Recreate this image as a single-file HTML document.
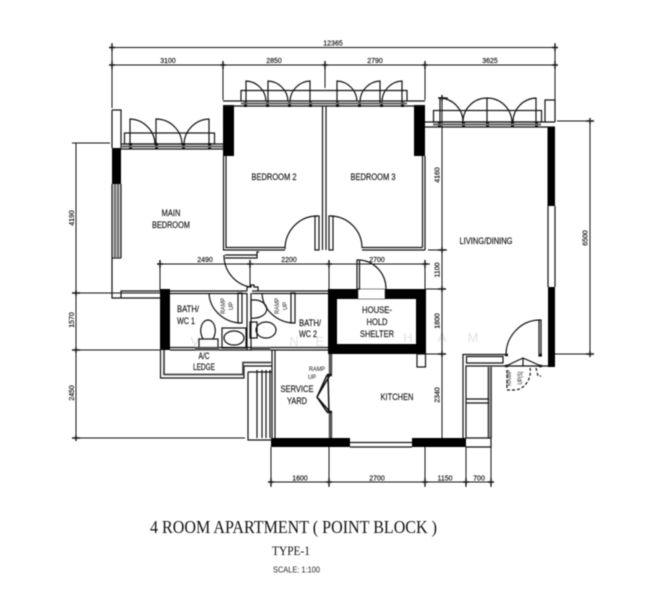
<!DOCTYPE html>
<html><head><meta charset="utf-8"><style>
html,body{margin:0;padding:0;background:#fff;width:661px;height:600px;overflow:hidden}
svg{display:block;filter:blur(.4px)}
text{font-family:"Liberation Sans",sans-serif;fill:#111;text-anchor:middle}
.d{font-size:7px;stroke:#111;stroke-width:.15}
.s{font-size:6px}
.r{font-size:9px;stroke:#111;stroke-width:.15}
.w{font-size:13px;fill:#e2e2e2}
</style></head><body>
<svg width="661" height="600" viewBox="0 0 661 600" xmlns="http://www.w3.org/2000/svg">
<!-- watermark -->
<g>
<text class="w" x="165" y="346">Y</text>
<text class="w" x="195" y="346">V</text>
<text class="w" x="294" y="346">N</text>
<text class="w" x="320" y="346">E</text>
<text class="w" x="408" y="342">H</text>
<text class="w" x="442" y="342">A</text>
<text class="w" x="473" y="342">M</text>
</g>
<!-- dimension lines -->
<g fill="none" stroke="#111" stroke-width="1">
<path d="M110 47.5H558M110 65H558"/>
<path d="M112 43V108M223 61V100M325 61V88M425 61V100M555 43V100"/>
<path d="M157 264H430M160 260V290M250 260V287M329 260V290M425 260V289"/>
<path d="M76 143V441M72 293H160M72 350H160M72 438H245M72 143H110"/>
<path d="M442 96V438M428 250H447M426 289H446M426 354H446M438 98H448"/>
<path d="M590 118V357M557 121H594M555 354H594"/>
<path d="M268 482H494M271 447V487M329 447V487M425 447V487M466 447V487M491 447V487"/>
<!-- ticks -->
<path stroke-width="1.4" d="M112 44V51M109 47.5H115M555 44V51M552 47.5H558M112 61V69M109 65H115M223 61V69M220 65H226M325 61V69M322 65H328M425 61V69M422 65H428M555 61V69M552 65H558"/>
<path stroke-width="1.4" d="M160 260V268M157 264H163M250 260V268M247 264H253M329 260V268M326 264H332M425 260V268M422 264H428"/>
<path stroke-width="1.4" d="M72 293H80M76 290V296M72 350H80M76 347V353M72 438H80M76 435V441"/>
<path stroke-width="1.4" d="M438 98H446M442 95V101M438 250H446M442 247V253M438 289H446M442 286V292M438 354H446M442 351V357"/>
<path stroke-width="1.4" d="M586 121H594M590 118V124M586 354H594M590 351V357"/>
<path stroke-width="1.4" d="M271 478V486M268 482H274M329 478V486M326 482H332M425 478V486M422 482H428M466 478V486M463 482H469M491 478V486M488 482H494"/>
</g>
<!-- black walls -->
<g fill="#000">
<rect x="112" y="148" width="9" height="36"/>
<rect x="223" y="105" width="11" height="51"/>
<rect x="414" y="105" width="11" height="51"/>
<rect x="547.5" y="127" width="7.5" height="79"/>
<rect x="548" y="287" width="7" height="80"/>
<rect x="160" y="289" width="10" height="61"/>
<path fill-rule="evenodd" d="M328 289H426V354H328ZM337 299V344H416V299Z"/>
<rect x="271" y="438" width="79" height="9"/>
<rect x="412" y="438" width="54" height="9"/>
</g>
<rect x="358" y="289" width="27" height="10" fill="#fff" stroke="#333" stroke-width=".6"/>
<!-- walls and lines -->
<g fill="none" stroke="#111" stroke-width="1.2">
<!-- main bedroom -->
<path d="M112 110H121V148M112 110V148"/>
<path d="M112 184V298H121V291H160M121 298H160M112 258H121M115 184V258M118 184V258M121 184V258"/>
<path d="M121 144H223M121 149H223"/>
<rect x="124.5" y="133" width="90" height="11"/>
<path d="M130 146V119A26 26 0 0 1 155 145M156 146V119A26 26 0 0 1 182 145M209 146V119A26 26 0 0 0 184 145"/>
<!-- bedroom 2 / 3 -->
<path d="M223 101H425M223 106H425"/>
<path d="M241 101V90.5H407V101"/>
<path d="M246 103V81A21 21 0 0 1 266 101M268 103V81A21 21 0 0 1 288 101M310 103V81A21 21 0 0 0 290 101"/>
<path d="M337 103V81A21 21 0 0 1 357 101M380 103V81A21 21 0 0 0 360 101M402 103V81A21 21 0 0 0 382 101"/>
<path d="M223.5 156V250H285M226 156V247.5H285"/>
<path d="M322.5 106V250M326 106V250"/>
<path d="M315 216H319V250H315ZM329 216H333V250H329Z"/>
<path d="M317 216A32 33 0 0 0 285 249M331 216A32 32 0 0 1 362 248"/>
<path d="M362 247.5H422.5M362 250H425M422.5 156V247.5M425 156V250"/>
<path d="M225 255H257V258H225M257 255V252H259M224 255A32 32 0 0 0 250 287"/>
<!-- bath -->
<path d="M170 291H247M170 293.5H247M252 291H328M252 293.5H328M170 347.5H328M170 350H328"/>
<path d="M247 293V350M251 293V350"/>
<path d="M247 291V287H251V285H254V287H258V291"/>
<path d="M209 293A33 31 0 0 0 242 323M238 293H242V323H238Z"/>
<path d="M262 293A33 31 0 0 0 295 323M291 293H295V323H291Z"/>
<path d="M251 300H256A13 9 0 0 1 251 318M251 317V300"/>
<rect x="250" y="322" width="7" height="16"/>
<ellipse cx="266" cy="330" rx="10" ry="8"/>
<rect x="222" y="328" width="24" height="20"/>
<ellipse cx="234" cy="338" rx="10" ry="7"/>
<rect x="199" y="339" width="19" height="9"/>
<path d="M203 339C198 330 202 320 208 320C214 320 218 330 213 339"/>
<!-- ledge -->
<path d="M160.5 350V378H244V366H272"/>
<path stroke="#444" stroke-width="1.8" d="M164 350V374.5H243V362.5H271"/>
<path d="M248 372V440H272M248 372H272M257 370V438M262 370V438M266 370V438M270 370V438"/>
<path d="M272 350V440M275 350V438"/>
<!-- kitchen / yard wall -->
<path stroke="#555" stroke-width="3.5" d="M330.5 354V374M330.5 412V438"/>
<path stroke-width="1.5" d="M327 375L317 397L327 412M330 375L317 397L330 412M328 375L329 412"/>
<path stroke-width="2.5" d="M327 375H332M327 412H332"/>
<path d="M350 442.5H412M350 447H412"/>
<!-- house shelter door -->
<path d="M357 260V289H359.5V260ZM358 260A28 29 0 0 1 386 290"/>
<rect x="417" y="354" width="8.5" height="13"/>
<!-- living -->
<path d="M425 122H555M425 127H555"/>
<rect x="433.5" y="110.5" width="108" height="11.5"/>
<path d="M440 124V98A24 24 0 0 1 463 122M487 124V98A24 24 0 0 0 463 122M487 124V98A25 25 0 0 1 512 122M536 124V98A24 24 0 0 0 513 122"/>
<path d="M545 122V100H555V122"/>
<path d="M548 206V287M555 206V287"/>
<!-- lower right -->
<path d="M463 438V354.5H506M466 438V366H548M466.5 356.5H503V363H466.5Z"/>
<path d="M506 355A34 35 0 0 1 539 320H541V356H539V320"/>
<path d="M506 366L523 358L541 366M523 358V366"/>
<path stroke-dasharray="3 2" d="M507 370V390H514C525 390 532 378 530 368M536 368L538 376H541"/>
<path stroke="#444" stroke-width="1.8" d="M488.5 367V438M491 367V438"/>
<path d="M466 399H489M466 403H489M466 438H491V447H466"/>
<path stroke-width="2.5" d="M505 355H508M505 366H508M539 355H542M539 366H542"/>
</g>
<!-- hatch and frame stubs -->
<g fill="#111">
<rect x="129" y="143" width="3" height="6"/><rect x="155" y="143" width="3" height="6"/><rect x="182" y="143" width="3" height="6"/><rect x="208" y="143" width="3" height="6"/>
<rect x="121" y="145.5" width="102" height="2" fill="#666"/>
<rect x="244" y="102" width="3" height="5"/><rect x="266" y="102" width="3" height="5"/><rect x="288" y="102" width="3" height="5"/><rect x="309" y="102" width="3" height="5"/><rect x="336" y="102" width="3" height="5"/><rect x="358" y="102" width="3" height="5"/><rect x="380" y="102" width="3" height="5"/><rect x="401" y="102" width="3" height="5"/>
<rect x="241" y="102.5" width="166" height="2" fill="#666"/>
<rect x="438" y="122" width="3" height="5"/><rect x="462" y="122" width="3" height="5"/><rect x="486" y="122" width="3" height="5"/><rect x="511" y="122" width="3" height="5"/><rect x="535" y="122" width="3" height="5"/>
<rect x="433" y="123.5" width="108" height="2" fill="#666"/>
<rect x="195" y="347" width="24" height="3.5" fill="#555"/>
<rect x="252" y="347" width="18" height="3.5" fill="#555"/>
<rect x="113" y="184" width="7" height="74" fill="#888" opacity=".6"/>
</g>
<!-- room labels -->
<text class="r" x="274" y="180" textLength="45" lengthAdjust="spacingAndGlyphs">BEDROOM 2</text>
<text class="r" x="373" y="180" textLength="45" lengthAdjust="spacingAndGlyphs">BEDROOM 3</text>
<text class="r" x="171" y="216" textLength="19" lengthAdjust="spacingAndGlyphs">MAIN</text>
<text class="r" x="171" y="228" textLength="38" lengthAdjust="spacingAndGlyphs">BEDROOM</text>
<text class="r" x="486" y="244" textLength="53" lengthAdjust="spacingAndGlyphs">LIVING/DINING</text>
<text class="r" x="397" y="400" textLength="33" lengthAdjust="spacingAndGlyphs">KITCHEN</text>
<text class="r" x="377" y="313" textLength="30" lengthAdjust="spacingAndGlyphs">HOUSE-</text>
<text class="r" x="377" y="325" textLength="21" lengthAdjust="spacingAndGlyphs">HOLD</text>
<text class="r" x="377" y="337" textLength="34" lengthAdjust="spacingAndGlyphs">SHELTER</text>
<text class="r" x="297" y="392" textLength="33" lengthAdjust="spacingAndGlyphs">SERVICE</text>
<text class="r" x="297" y="404" textLength="20" lengthAdjust="spacingAndGlyphs">YARD</text>
<text class="r" x="188" y="312" textLength="22" lengthAdjust="spacingAndGlyphs">BATH/</text>
<text class="r" x="186" y="324" textLength="18" lengthAdjust="spacingAndGlyphs">WC 1</text>
<text class="r" x="310" y="326" textLength="22" lengthAdjust="spacingAndGlyphs">BATH/</text>
<text class="r" x="308" y="337" textLength="18" lengthAdjust="spacingAndGlyphs">WC 2</text>
<text class="r" x="204" y="359" textLength="11" lengthAdjust="spacingAndGlyphs">A/C</text>
<text class="r" x="204" y="370" textLength="22" lengthAdjust="spacingAndGlyphs">LEDGE</text>
<text class="s" x="317" y="371" textLength="16" lengthAdjust="spacingAndGlyphs">RAMP</text>
<text class="s" x="312" y="379" textLength="8" lengthAdjust="spacingAndGlyphs">UP</text>
<g>
<text class="s" transform="translate(225 306) rotate(-90)" textLength="16" lengthAdjust="spacingAndGlyphs">RAMP</text>
<text class="s" transform="translate(233 306) rotate(-90)">UP</text>
<text class="s" transform="translate(279 306) rotate(-90)" textLength="16" lengthAdjust="spacingAndGlyphs">RAMP</text>
<text class="s" transform="translate(287 306) rotate(-90)">UP</text>
<text class="s" transform="translate(511 378) rotate(-90)" textLength="16" lengthAdjust="spacingAndGlyphs">RAMP</text>
<text class="s" transform="translate(522 378) rotate(-90)" textLength="13" lengthAdjust="spacingAndGlyphs">UP(S)</text>
</g>
<!-- dimension labels -->
<g>
<text class="d" x="333" y="45.5">12365</text>
<text class="d" x="168" y="63">3100</text><text class="d" x="274" y="63">2850</text><text class="d" x="375" y="63">2790</text><text class="d" x="490" y="63">3625</text>
<text class="d" x="205" y="262">2490</text><text class="d" x="289" y="262">2200</text><text class="d" x="377" y="262">2700</text>
<text class="d" x="300" y="480.5">1600</text><text class="d" x="377" y="480.5">2700</text><text class="d" x="445" y="480.5">1150</text><text class="d" x="479" y="480.5">700</text>
<text class="d" transform="translate(74 218) rotate(-90)">4190</text>
<text class="d" transform="translate(74 320) rotate(-90)">1570</text>
<text class="d" transform="translate(74 393) rotate(-90)">2450</text>
<text class="d" transform="translate(439.5 175) rotate(-90)">4160</text>
<text class="d" transform="translate(439.5 270) rotate(-90)">1100</text>
<text class="d" transform="translate(439.5 321) rotate(-90)">1800</text>
<text class="d" transform="translate(439.5 395) rotate(-90)">2340</text>
<text class="d" transform="translate(587.5 238) rotate(-90)">6500</text>
</g>
<!-- titles -->
<text x="293.5" y="533" style="font-family:'Liberation Serif',serif;font-size:18px;fill:#111" textLength="287" lengthAdjust="spacingAndGlyphs">4 ROOM APARTMENT ( POINT BLOCK )</text>
<text x="291" y="555" style="font-family:'Liberation Serif',serif;font-size:13px;fill:#111" textLength="38" lengthAdjust="spacingAndGlyphs">TYPE-1</text>
<text x="296.5" y="572.5" style="font-size:8.5px;fill:#222" textLength="47" lengthAdjust="spacingAndGlyphs">SCALE: 1:100</text>
</svg>
</body></html>
